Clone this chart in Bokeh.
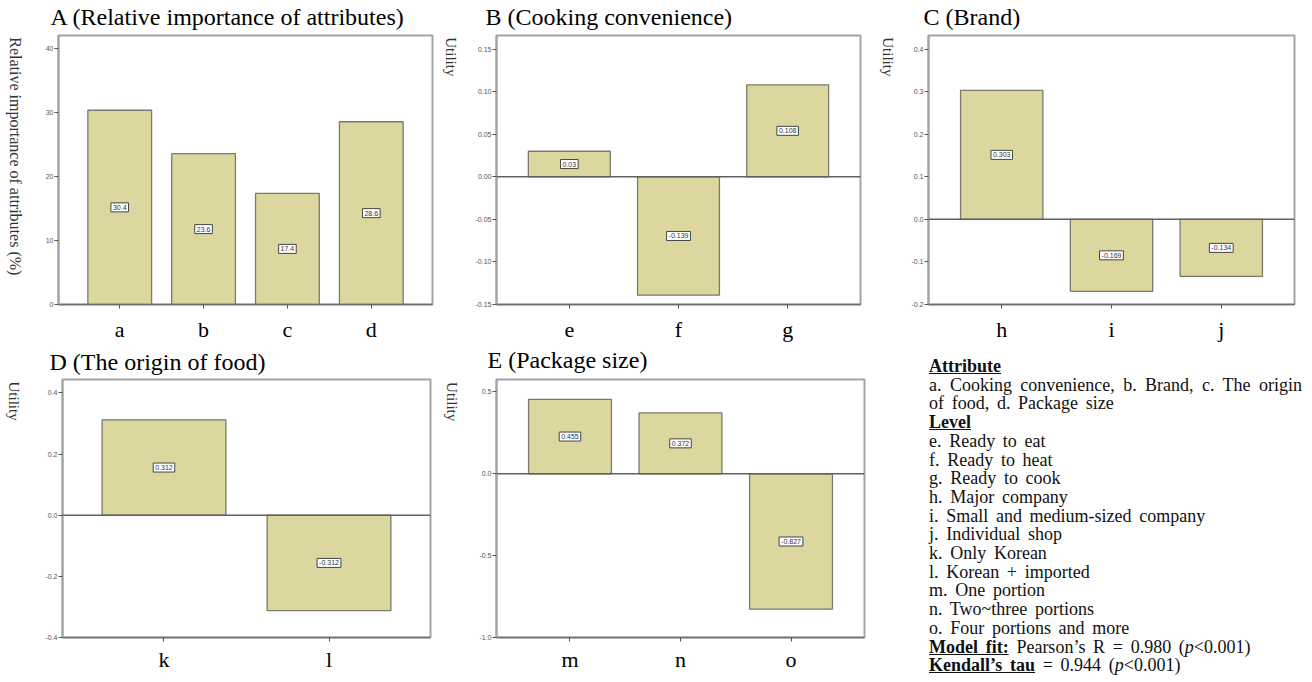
import math
from bokeh.plotting import figure
from bokeh.models import ColumnDataSource, FixedTicker, Span, Range1d, Div
from bokeh.layouts import row, column
from bokeh.core.properties import value
from bokeh.embed import file_html
from bokeh.resources import INLINE

# ---------------- data ----------------
attr_cats = ["a", "b", "c", "d"]
attr_vals = [30.4, 23.6, 17.4, 28.6]
attr_ticks = [0, 10, 20, 30, 40]
attr_tick_labels = ["0", "10", "20", "30", "40"]

cook_cats = ["e", "f", "g"]
cook_vals = [0.03, -0.139, 0.108]
cook_ticks = [-0.15, -0.10, -0.05, 0.0, 0.05, 0.10, 0.15]
cook_tick_labels = ["-0.15", "-0.10", "-0.05", "0.00", "0.05", "0.10", "0.15"]

brand_cats = ["h", "i", "j"]
brand_vals = [0.303, -0.169, -0.134]
brand_ticks = [-0.2, -0.1, 0.0, 0.1, 0.2, 0.3, 0.4]
brand_tick_labels = ["-0.2", "-0.1", "0.0", "0.1", "0.2", "0.3", "0.4"]

origin_cats = ["k", "l"]
origin_vals = [0.312, -0.312]
origin_ticks = [-0.4, -0.2, 0.0, 0.2, 0.4]
origin_tick_labels = ["-0.4", "-0.2", "0.0", "0.2", "0.4"]

pack_cats = ["m", "n", "o"]
pack_vals = [0.455, 0.372, -0.827]
pack_ticks = [-1.0, -0.5, 0.0, 0.5]
pack_tick_labels = ["-1.0", "-0.5", "0.0", "0.5"]

top_titles = ["A (Relative importance of attributes)", "B (Cooking convenience)", "C (Brand)"]
bottom_titles = ["D (The origin of food)", "E (Package size)"]
y_titles = ["Relative importance of attributes (%)", "Utility", "Utility", "Utility", "Utility"]

legend_attr = "a. Cooking convenience, b. Brand, c. The origin of food, d. Package size"
legend_levels = [
    "e. Ready to eat", "f. Ready to heat", "g. Ready to cook", "h. Major company",
    "i. Small and medium-sized company", "j. Individual shop", "k. Only Korean",
    "l. Korean + imported", "m. One portion", "n. Two~three portions",
    "o. Four portions and more",
]

# ---------------- style ----------------
BAR_FILL = "#dcd79f"
BAR_LINE = "#7a7a6a"
SERIF = "Liberation Serif"
SANS = "Liberation Sans"


def blank(w, h):
    f = figure(width=w, height=h, x_range=Range1d(0, w), y_range=Range1d(0, h),
               output_backend="svg", toolbar_location=None, title=None,
               x_axis_location=None, y_axis_location=None,
               min_border_left=0, min_border_right=0, min_border_top=0, min_border_bottom=0,
               background_fill_color="white", border_fill_color="white")
    f.outline_line_color = None
    f.xgrid.visible = False
    f.ygrid.visible = False
    return f


def title_strip(w, h, titles, xs, ys):
    f = blank(w, h)
    f.text(x=xs, y=ys, text=titles, text_font=value(SERIF), text_font_size="24px",
           text_color="black", text_baseline="alphabetic", text_align="left")
    return f


def ylabel_fig(w, h, text, cx, top, size):
    f = blank(w, h)
    f.text(x=[cx], y=[h - top], text=[text], angle=-math.pi / 2, text_font=value(SERIF),
           text_font_size=size, text_color="#333333", text_baseline="middle",
           text_align="left")
    return f


def panel(cats, vals, ticks, tick_labels, y0, y1, pad, bar_w, W, H, bl, br, bt, bb,
          standoff, zero_line):
    n = len(cats)
    xs = list(range(1, n + 1))
    p = figure(width=W, height=H, x_range=Range1d(1 - pad, n + pad), y_range=Range1d(y0, y1),
               output_backend="svg", toolbar_location=None, title=None,
               min_border_left=bl, min_border_right=br, min_border_top=bt, min_border_bottom=bb,
               background_fill_color="white", border_fill_color="white")
    p.xgrid.visible = False
    p.ygrid.visible = False
    p.outline_line_color = "#a4a4a4"
    p.outline_line_width = 2

    p.yaxis.ticker = FixedTicker(ticks=ticks)
    p.yaxis.major_label_overrides = dict(zip(ticks, tick_labels))
    p.yaxis.minor_tick_line_color = None
    p.yaxis.major_tick_out = 4
    p.yaxis.major_tick_in = 0
    p.yaxis.major_tick_line_color = "#555555"
    p.yaxis.major_label_text_font = SANS
    p.yaxis.major_label_text_font_size = "7px"
    p.yaxis.major_label_text_color = "#555555"
    p.yaxis.major_label_standoff = 1
    p.yaxis.axis_line_color = "#a4a4a4"
    p.yaxis.axis_line_width = 2

    p.xaxis.ticker = FixedTicker(ticks=xs)
    p.xaxis.major_label_overrides = dict(zip(xs, cats))
    p.xaxis.minor_tick_line_color = None
    p.xaxis.major_tick_out = 4
    p.xaxis.major_tick_in = 0
    p.xaxis.major_tick_line_color = "#555555"
    p.xaxis.major_label_text_font = SERIF
    p.xaxis.major_label_text_font_size = "22px"
    p.xaxis.major_label_text_color = "black"
    p.xaxis.major_label_standoff = standoff
    p.xaxis.axis_line_color = "#707070"
    p.xaxis.axis_line_width = 1.5

    src = ColumnDataSource(dict(x=xs, val=vals, mid=[v / 2 for v in vals],
                                lab=[str(v) for v in vals]))
    p.vbar(x="x", top="val", bottom=0, width=bar_w, source=src,
           fill_color=BAR_FILL, line_color=BAR_LINE, line_width=1.3)
    if zero_line:
        p.add_layout(Span(location=0, dimension="width", line_color="#606060", line_width=1.5))
    p.text(x="x", y="mid", text="lab", source=src, text_align="center", text_baseline="middle",
           text_font=value(SANS), text_font_size="7px", text_color="#333333",
           background_fill_color="white", border_line_color="#444444", border_line_width=1,
           padding=2)
    return p


# ---- top row (strip 33 + panels 311) ----
H1 = 311
pA = panel(attr_cats, attr_vals, attr_ticks, attr_tick_labels, 0, 42.1, 0.73, 0.76,
           410, H1, 30, 6, 2, 40, 8, False)
pB = panel(cook_cats, cook_vals, cook_ticks, cook_tick_labels, -0.15, 0.166, 0.667, 0.75,
           396, H1, 24, 8, 2, 40, 8, True)
pC = panel(brand_cats, brand_vals, brand_ticks, brand_tick_labels, -0.2, 0.432, 0.667, 0.75,
           402, H1, 26, 10, 2, 40, 8, True)
yA = ylabel_fig(28, H1, y_titles[0], 14.5, 2, "16px")
yB = ylabel_fig(34, H1, y_titles[1], 12.7, 2, "15px")
yC = ylabel_fig(34, H1, y_titles[2], 19, 2, "15px")
strip1 = title_strip(1304, 33, top_titles, [50, 485, 923], [16.7, 16.7, 16.7])

# ---- bottom row (strip 33 + panels 297) ----
H2 = 297
pD = panel(origin_cats, origin_vals, origin_ticks, origin_tick_labels, -0.4, 0.444, 0.615, 0.75,
           410, H2, 34, 8, 2, 37, 5, True)
pE = panel(pack_cats, pack_vals, pack_ticks, pack_tick_labels, -1.0, 0.576, 0.665, 0.75,
           398, H2, 24, 6, 2, 37, 5, True)
yD = ylabel_fig(28, H2, y_titles[3], 13.3, 2.3, "15px")
yE = ylabel_fig(34, H2, y_titles[4], 13.7, 3, "15px")
strip2 = title_strip(870, 33, bottom_titles, [49, 487], [16, 17.3])

lines_html = "".join("<div>%s</div>" % s for s in legend_levels)
html = (
    "<div style=\"font-family:'Liberation Serif',serif;font-size:18px;line-height:18.7px;"
    "color:#111;word-spacing:3.2px;padding-left:54px;padding-top:8px;\">"
    "<div style='width:373px'>"
    "<div><u><b>Attribute</b></u></div>"
    "<div style='text-align:justify'>%s</div>"
    "<div><u><b>Level</b></u></div>%s"
    "<div><u><b>Model fit:</b></u> Pearson\u2019s R = 0.980 (<i>p</i>&lt;0.001)</div>"
    "<div><u><b>Kendall\u2019s tau</b></u> = 0.944 (<i>p</i>&lt;0.001)</div>"
    "</div></div>" % (legend_attr, lines_html)
)
legend = Div(text=html, width=434, height=330)

layout = column(
    strip1,
    row(yA, pA, yB, pB, yC, pC),
    row(column(strip2, row(yD, pD, yE, pE)), legend),
)
open("out.html", "w").write(file_html(layout, INLINE))
